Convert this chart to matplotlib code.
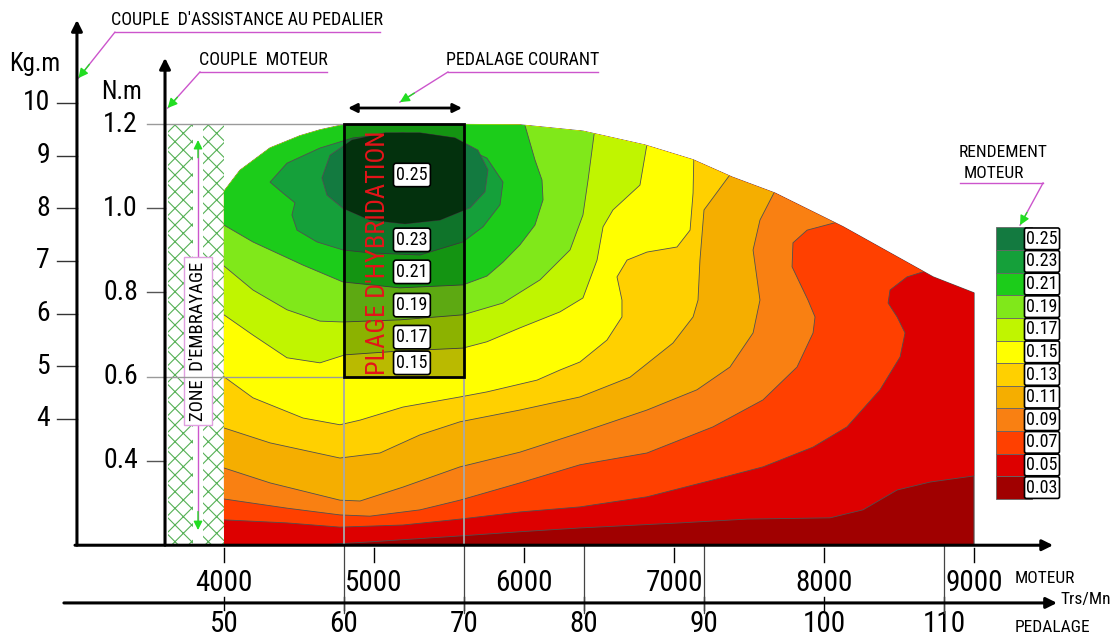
import numpy as np
import matplotlib
matplotlib.use("Agg")
import matplotlib.pyplot as plt
from matplotlib import font_manager as fm
from matplotlib.patches import Polygon, Rectangle


def pick_family():
    # the drawing uses a condensed technical lettering; take the narrowest one found
    for fam, scale in [("Roboto Condensed", 1.0), ("Liberation Sans Narrow", 0.95),
                       ("Roboto", 0.87)]:
        try:
            fm.findfont(fm.FontProperties(family=fam), fallback_to_default=False)
            return fam, scale
        except ValueError:
            continue
    return "DejaVu Sans", 0.8


FAM, SZ = pick_family()
plt.rcParams["font.family"] = [FAM, "DejaVu Sans"]
plt.rcParams["hatch.linewidth"] = 0.8

# efficiency levels (legend) and their colours
levels = [0.03, 0.05, 0.07, 0.09, 0.11, 0.13, 0.15, 0.17, 0.19, 0.21, 0.23, 0.25]
level_colors = ["#a00000", "#dd0000", "#ff4000", "#f98012", "#f5ae00", "#ffd000",
                "#ffff00", "#c0f500", "#80e81a", "#1ccc1a", "#15a03a", "#137a40"]

# outline of the motor map (rpm, N.m)
envelope_rpm = [4000, 4000, 4107, 4307, 4507, 4640, 4793, 5173, 5973, 6393,
                6807, 7127, 7387, 7673, 8127, 8727, 9000, 9000]
envelope_nm = [0.2, 1.040, 1.090, 1.143, 1.172, 1.186, 1.198, 1.2, 1.198, 1.183,
               1.150, 1.115, 1.074, 1.036, 0.956, 0.837, 0.799, 0.2]

# iso-efficiency boundaries (rpm, N.m)
b05 = [(3900, 0.184), (4527, 0.198), (4973, 0.208), (5573, 0.222), (5973, 0.232),
       (6373, 0.241), (7040, 0.253), (7487, 0.262), (8040, 0.265), (8260, 0.284),
       (8487, 0.331), (8707, 0.350), (9050, 0.367)]
b07 = [(3900, 0.262), (4420, 0.253), (4773, 0.243), (5193, 0.248), (5573, 0.262),
       (5973, 0.279), (6373, 0.291), (6820, 0.315), (7260, 0.355), (7593, 0.386),
       (7927, 0.433), (8153, 0.481), (8373, 0.569), (8507, 0.647), (8540, 0.704),
       (8487, 0.742), (8427, 0.775), (8440, 0.806), (8553, 0.837), (8740, 0.858)]
b09 = [(3900, 0.315), (4420, 0.288), (4773, 0.272), (4973, 0.269), (5307, 0.284),
       (5573, 0.307), (5973, 0.348), (6373, 0.391), (6820, 0.419), (7260, 0.481),
       (7593, 0.545), (7820, 0.623), (7927, 0.704), (7940, 0.742), (7893, 0.782),
       (7787, 0.861), (7793, 0.918), (7887, 0.948), (8140, 0.972)]
b11 = [(3900, 0.395), (4307, 0.348), (4773, 0.307), (4907, 0.305), (5193, 0.338),
       (5573, 0.386), (5973, 0.421), (6373, 0.467), (6820, 0.521), (7153, 0.569),
       (7373, 0.623), (7527, 0.704), (7573, 0.782), (7527, 0.901), (7573, 0.972),
       (7693, 1.055)]
b13 = [(3900, 0.490), (4307, 0.443), (4773, 0.407), (5040, 0.419), (5307, 0.462),
       (5573, 0.493), (5973, 0.521), (6373, 0.552), (6707, 0.599), (6993, 0.680),
       (7127, 0.742), (7160, 0.782), (7173, 0.877), (7200, 0.996), (7407, 1.096)]
b15 = [(3900, 0.610), (4000, 0.600), (4193, 0.550), (4527, 0.502), (4773, 0.486),
       (4907, 0.497), (5193, 0.528), (5573, 0.552), (5753, 0.564), (6087, 0.592),
       (6240, 0.616), (6373, 0.635), (6553, 0.687), (6653, 0.742), (6653, 0.782),
       (6620, 0.837), (6687, 0.877), (6820, 0.896), (7020, 0.908), (7107, 0.948),
       (7127, 1.036), (7133, 1.138)]
b17 = [(3900, 0.751), (4000, 0.747), (4193, 0.699), (4420, 0.645), (4640, 0.633),
       (4807, 0.652), (5173, 0.661), (5593, 0.668), (5753, 0.683), (5973, 0.716),
       (6240, 0.754), (6393, 0.787), (6487, 0.877), (6527, 0.956), (6593, 0.996),
       (6773, 1.055), (6827, 1.167)]
b19 = [(3900, 0.868), (4000, 0.863), (4193, 0.806), (4420, 0.759), (4640, 0.732),
       (4793, 0.730), (5173, 0.735), (5593, 0.747), (5860, 0.775), (6107, 0.830),
       (6307, 0.901), (6393, 0.984), (6427, 1.067), (6480, 1.210)]
b21 = [(3900, 0.965), (4000, 0.960), (4193, 0.920), (4527, 0.865), (4793, 0.825),
       (5173, 0.811), (5593, 0.818), (5753, 0.839), (5860, 0.872), (5973, 0.913),
       (6073, 0.960), (6127, 1.020), (6120, 1.067), (6073, 1.115), (5987, 1.221)]
b23 = [(4307, 1.062), (4420, 1.107), (4640, 1.143), (4860, 1.167), (5193, 1.179),
       (5527, 1.157), (5753, 1.119), (5860, 1.062), (5840, 1.008), (5727, 0.956),
       (5593, 0.920), (5307, 0.889), (4973, 0.894), (4793, 0.901), (4620, 0.920),
       (4487, 0.948), (4453, 0.984), (4473, 1.013), (4393, 1.036)]
b25 = [(4653, 1.072), (4707, 1.126), (4853, 1.162), (5073, 1.179), (5307, 1.179),
       (5540, 1.167), (5693, 1.138), (5760, 1.091), (5740, 1.039), (5640, 1.001),
       (5440, 0.972), (5207, 0.963), (4973, 0.972), (4793, 1.000), (4687, 1.031)]

# axes ticks
motor_ticks = [4000, 5000, 6000, 7000, 8000, 9000]
pedal_ticks = [50, 60, 70, 80, 90, 100, 110]
pedal_long = [80, 90, 110]
nm_ticks = [0.4, 0.6, 0.8, 1.0, 1.2]
kgm_ticks = [4, 5, 6, 7, 8, 9, 10]
RPM_PER_PEDAL = 80      # pedal rpm -> motor rpm
NM_PER_KGM = 0.125      # scale of the left axis

# hybridisation window (pedal 60..70) and clutch zone
hyb_pedal = (60, 70)
hyb_nm = (0.6, 1.2)
clutch_rpm = (3627, 4000)

W, H = 1114, 640
fig = plt.figure(figsize=(W / 100, H / 100), dpi=100)
ax = fig.add_axes([0, 0, 1, 1])
ax.set_xlim(2507, 9933)
ax.set_ylim(-0.025, 1.4944)
ax.axis("off")

EDGE = "#505050"
MAGENTA = "#cc55cc"
GREEN = "#22dd22"

# ---- motor map -------------------------------------------------------
env = Polygon(np.column_stack([envelope_rpm, envelope_nm]), closed=True,
              fc=level_colors[0], ec=EDGE, lw=0.8, zorder=2)
ax.add_patch(env)

open_bounds = [b05, b07, b09, b11, b13, b15, b17, b19, b21]
for i, pts in enumerate(open_bounds, start=1):
    xs = [p[0] for p in pts]
    ys = [p[1] for p in pts]
    xs += [xs[-1], xs[0]]
    ys += [1.5, 1.5]
    poly = Polygon(np.column_stack([xs, ys]), closed=True,
                   fc=level_colors[i], ec=EDGE, lw=0.6, zorder=3)
    ax.add_patch(poly)
    poly.set_clip_path(env)

for i, pts in [(10, b23), (11, b25)]:
    poly = Polygon(np.array(pts), closed=True, fc=level_colors[i],
                   ec=EDGE, lw=0.6, zorder=3)
    ax.add_patch(poly)

# hybridisation rectangle
hx0 = hyb_pedal[0] * RPM_PER_PEDAL
hx1 = hyb_pedal[1] * RPM_PER_PEDAL
shade = Rectangle((hx0, hyb_nm[0]), hx1 - hx0, hyb_nm[1] - hyb_nm[0],
                  fc="black", alpha=0.27, lw=0, zorder=4)
ax.add_patch(shade)
core = Polygon(np.array(b25), closed=True, fc="#002000", alpha=0.7, lw=0, zorder=4)
ax.add_patch(core)
core.set_clip_path(shade)
ax.add_patch(Rectangle((hx0, hyb_nm[0]), hx1 - hx0, hyb_nm[1] - hyb_nm[0],
                       fill=False, ec="black", lw=2, zorder=6))
ax.text(5027, 0.895, "PLAGE D'HYBRIDATION", rotation=90, ha="center", va="center",
        color="#e4141a", fontsize=19 * SZ, zorder=7)
for lev, y in zip([0.25, 0.23, 0.21, 0.19, 0.17, 0.15],
                  [1.079, 0.925, 0.849, 0.770, 0.694, 0.633]):
    ax.text(5253, y, f"{lev:.2f}", ha="center", va="center", fontsize=13 * SZ,
            zorder=7,
            bbox=dict(boxstyle="round,pad=0.15", fc="white", ec="black", lw=1.2))

# guide lines
for v in (1.2, 0.6):
    ax.plot([3487, hx0], [v, v], color="#9a9a9a", lw=1, zorder=5)
for x in (hx0, hx1):
    ax.plot([x, x], [hyb_nm[0], 0.2], color="#a8a8a8", lw=1.3, zorder=5)
    ax.plot([x, x], [0.2, 0.04], color="#444444", lw=0.9, zorder=5)
for p in pedal_long:
    x = p * RPM_PER_PEDAL
    ax.plot([x, x], [0.2, 0.04], color="#444444", lw=0.9, zorder=5)

# clutch zone
ax.add_patch(Rectangle((clutch_rpm[0], 0.2), clutch_rpm[1] - clutch_rpm[0], 1.0,
                       fc="white", ec="#55b055", hatch="xx", lw=0, zorder=2))
ax.add_patch(Rectangle((3795, 0.2), 65, 1.0, fc="white", lw=0, zorder=2))
ax.plot([3827, 3827], [1.15, 0.25], color=MAGENTA, lw=1, zorder=3)
for tip, back in [(1.162, 1.12), (0.236, 0.28)]:
    ax.annotate("", xy=(3827, tip), xytext=(3827, back), zorder=3,
                arrowprops=dict(arrowstyle="-|>", color=GREEN, lw=1,
                                mutation_scale=13, shrinkA=0, shrinkB=0))
ax.text(3827, 0.685, "ZONE  D'EMBRAYAGE", rotation=90, ha="center", va="center",
        fontsize=13.5 * SZ, zorder=4,
        bbox=dict(boxstyle="square,pad=0.25", fc="white", ec="#e0a0e0", lw=1))

# ---- axes --------------------------------------------------------------
X_KG, X_NM = 3020, 3607
Y_MOT, Y_PED = 0.2, 0.063
arrow = dict(arrowstyle="-|>", color="black", lw=2.2, mutation_scale=16,
             shrinkA=0, shrinkB=0)
ax.annotate("", xy=(X_KG, 1.447), xytext=(X_KG, Y_MOT), arrowprops=arrow, zorder=8)
ax.annotate("", xy=(X_NM, 1.357), xytext=(X_NM, Y_MOT), arrowprops=arrow, zorder=8)
ax.annotate("", xy=(9527, Y_MOT), xytext=(3007, Y_MOT), arrowprops=arrow, zorder=8)
ax.annotate("", xy=(9553, Y_PED), xytext=(2933, Y_PED), arrowprops=arrow, zorder=8)

for r in motor_ticks:
    ax.plot([r, r], [0.193, 0.160], color="black", lw=1)
    ax.text(r, 0.110, str(r), ha="center", va="center", fontsize=21 * SZ)
for p in pedal_ticks:
    x = p * RPM_PER_PEDAL
    ax.plot([x, x], [0.077, 0.046], color="black", lw=1)
    ax.text(x, 0.012, str(p), ha="center", va="center", fontsize=21 * SZ)

for v in nm_ticks:
    if v not in (1.2, 0.6):
        ax.plot([3487, X_NM], [v, v], color="#555555", lw=1)
    ax.text(3427, v, f"{v:.1f}", ha="right", va="center", fontsize=20 * SZ)
for k in kgm_ticks:
    y = k * NM_PER_KGM
    ax.plot([2887, X_KG], [y, y], color="#333333", lw=1)
    ax.text(2840, y, str(k), ha="right", va="center", fontsize=20 * SZ)

ax.text(2740, 1.342, "Kg.m", ha="center", va="center", fontsize=18 * SZ)
ax.text(3320, 1.276, "N.m", ha="center", va="center", fontsize=18 * SZ)
ax.text(9270, 0.122, "MOTEUR", ha="left", va="center", fontsize=12.5 * SZ)
ax.text(9575, 0.070, "Trs/Mn", ha="left", va="center", fontsize=12.5 * SZ)
ax.text(9270, 0.005, "PEDALAGE", ha="left", va="center", fontsize=12.5 * SZ)


# ---- callouts ----------------------------------------------------------
def callout(text, x0, x1, y, tip, size=13):
    ax.text((x0 + x1) / 2, y + 0.008, text, ha="center", va="bottom",
            fontsize=size * SZ)
    ax.plot([x0, x1], [y, y], color=MAGENTA, lw=1)
    ax.plot([x0, tip[0]], [y, tip[1]], color=MAGENTA, lw=1)
    back = (tip[0] + 0.3 * (x0 - tip[0]), tip[1] + 0.3 * (y - tip[1]))
    ax.annotate("", xy=tip, xytext=back,
                arrowprops=dict(arrowstyle="-|>", color=GREEN, lw=1,
                                mutation_scale=14, shrinkA=0, shrinkB=0))


callout("COUPLE  D'ASSISTANCE AU PEDALIER", 3273, 5040, 1.418, (3030, 1.309))
callout("COUPLE  MOTEUR", 3840, 4687, 1.3235, (3625, 1.238))
callout("PEDALAGE COURANT", 5493, 6493, 1.3235, (5173, 1.252))
ax.annotate("", xy=(4827, 1.238), xytext=(5587, 1.238),
            arrowprops=dict(arrowstyle="<|-|>", color="black", lw=2,
                            mutation_scale=13, shrinkA=0, shrinkB=0))

# ---- legend ------------------------------------------------------------
ax.text(8900, 1.133, "RENDEMENT", ha="left", va="center", fontsize=12.5 * SZ)
ax.text(8933, 1.082, "MOTEUR", ha="left", va="center", fontsize=12.5 * SZ)
ax.plot([8907, 9460], [1.060, 1.060], color=MAGENTA, lw=1)
ax.plot([9460, 9307], [1.060, 0.960], color=MAGENTA, lw=1)
ax.annotate("", xy=(9307, 0.960), xytext=(9353, 0.990),
            arrowprops=dict(arrowstyle="-|>", color=GREEN, lw=1,
                            mutation_scale=14, shrinkA=0, shrinkB=0))

row_h = 0.0537
top = 0.9275
for j, (lev, col) in enumerate(zip(levels[::-1], level_colors[::-1])):
    yc = top - j * row_h
    ax.add_patch(Rectangle((9147, yc - row_h / 2), 240, row_h, fc=col,
                           ec="#666666", lw=0.6, zorder=3))
    ax.text(9453, yc, f"{lev:.2f}", ha="center", va="center", fontsize=13 * SZ,
            zorder=4,
            bbox=dict(boxstyle="round,pad=0.1", fc="white", ec="black", lw=1.2))

fig.savefig("out.png", dpi=100)
